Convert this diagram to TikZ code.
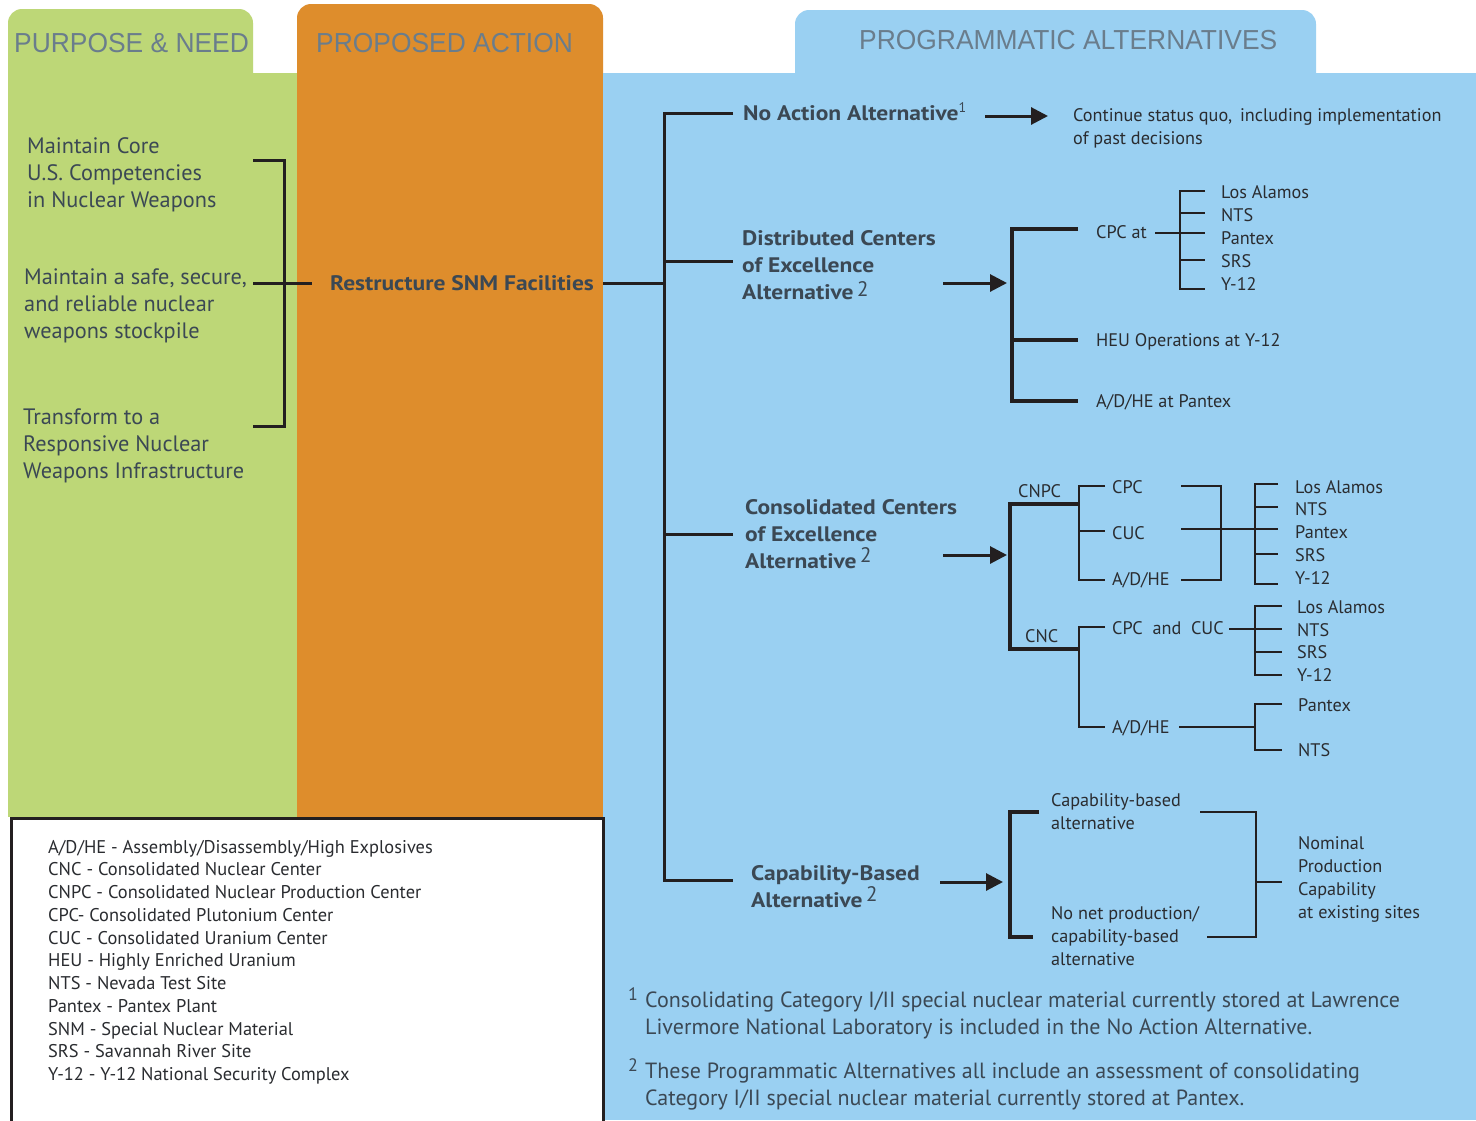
\documentclass[tikz,border=0pt]{standalone}
\usepackage{fontspec}
\setmainfont{PT Sans}
\newfontfamily\hdrfont{Liberation Sans}
\newfontfamily\boldwide[FakeStretch=1.12]{PT Sans Bold}
\usetikzlibrary{arrows.meta}
\definecolor{pgreen}{HTML}{BDD777}
\definecolor{porange}{HTML}{DE8D2C}
\definecolor{pblue}{HTML}{9AD0F2}
\definecolor{txt}{HTML}{3B4854}
\definecolor{dk}{HTML}{2A2C30}
\definecolor{hdr}{HTML}{6A7D8C}
\definecolor{ink}{HTML}{231F20}
\begin{document}
\begin{tikzpicture}[x=1pt,y=-1pt,
  thickln/.style={draw=ink,line width=3pt},
  heavyln/.style={draw=ink,line width=3.6pt},
  thinln/.style={draw=ink,line width=1.6pt},
  arr/.style={draw=ink,line width=3pt,-{Triangle[length=17pt,width=17pt]}},
  hdrtxt/.style={inner sep=0,anchor=base west,text=hdr,font=\hdrfont\fontsize{27.5}{27.5}\selectfont},
  lefttxt/.style={inner sep=0,anchor=base west,align=left,text=txt,font=\fontsize{22.3}{27}\selectfont},
  boldtxt/.style={inner sep=0,anchor=base west,align=left,text=txt,font=\boldwide\fontsize{21}{27}\selectfont},
  smalltxt/.style={inner sep=0,anchor=base west,align=left,text=dk,font=\fontsize{18.2}{23}\selectfont},
  legtxt/.style={inner sep=0,anchor=base west,align=left,text=dk,font=\fontsize{18.4}{22.75}\selectfont},
  fntxt/.style={inner sep=0,anchor=base west,align=left,text=txt,font=\fontsize{22}{27}\selectfont},
  supmark/.style={inner sep=0,anchor=base west,text=txt,font=\fontsize{18}{18}\selectfont},
  supr/.style={},
]
\useasboundingbox (0,0) rectangle (1476,1120);
\fill[white] (0,0) rectangle (1476,1120);
% panels
\fill[pgreen,rounded corners=14pt] (8,9) rectangle (253,110);
\fill[pgreen] (8,73) rectangle (297,817);
\fill[porange,rounded corners=14pt] (297,4) rectangle (603,110);
\fill[porange] (297,60) rectangle (603,817);
\fill[pblue,rounded corners=14pt] (795,10) rectangle (1316,110);
\fill[pblue] (603,73) rectangle (1476,1120);
\draw[line width=3pt,draw=ink,fill=white] (11,818) rectangle (603,1125);

% headers
\node[hdrtxt] (hpn) at (14,52) {\scalebox{0.96}[1]{PURPOSE \& NEED}};
\node[hdrtxt] (hpa) at (316,52) {\scalebox{0.96}[1]{PROPOSED ACTION}};
\node[hdrtxt] (hpg) at (859,49) {\scalebox{0.96}[1]{PROGRAMMATIC ALTERNATIVES}};

% purpose & need (anchors are the baseline of the last line)
\node[lefttxt] (pn1) at (27,207) {Maintain Core\\U.S. Competencies\\in Nuclear Weapons};
\node[lefttxt] (pn2) at (24,338) {Maintain a safe, secure,\\and reliable nuclear\\weapons stockpile};
\node[lefttxt] (pn3) at (23,478) {Transform to a\\Responsive Nuclear\\Weapons Infrastructure};
\coordinate (pnT) at (253,160);
\coordinate (pnB) at (253,426);
\coordinate (pnM) at (253,283);
\coordinate (pnX) at (284,283);
\draw[thickln] (pnT) -| (pnX |- pnB) -- (pnB);
\draw[thickln] (pnM) -- (312,283);

% proposed action
\node[boldtxt] (restr) at (330,290) {Restructure SNM Facilities};
\coordinate (paOut) at (603,283);
\coordinate (trunk) at (664,283);
\draw[thickln] (paOut) -- (trunk);

% trunk
\coordinate (tTop) at (664,113);
\coordinate (tBot) at (664,880);
\coordinate (bNA) at (733,113);
\coordinate (bDC) at (733,261);
\coordinate (bCC) at (733,534);
\coordinate (bCB) at (733,880);
\draw[thickln] (bNA) -| (tBot) -- (bCB);
\draw[thickln] (tTop |- bDC) -- (bDC);
\draw[thickln] (tTop |- bCC) -- (bCC);

% No action
\node[boldtxt] (na) at (743,120) {No Action Alternative\raisebox{8pt}{\normalfont\fontsize{14}{14}\selectfont 1}};
\node[smalltxt] (nares) at (1073,144) {Continue status quo,\, including implementation\\of past decisions};
\draw[arr] (985,116) -- (1048,116);

% Distributed centers
\node[boldtxt] (dc) at (742,299) {Distributed Centers\\of Excellence\\Alternative\,\raisebox{3pt}{\normalfont\fontsize{21}{21}\selectfont 2}};
\draw[arr] (943,283) -- (1007,283);
\draw[heavyln] (1078,229) -| (1012,401) -- (1078,401);
\draw[heavyln] (1012,340) -- (1078,340);
\node[smalltxt] (cpcat) at (1096,238) {CPC at};
\draw[thinln] (1155,233) -- (1205,233);
\draw[thinln] (1205,191) -| (1180,289) -- (1205,289);
\draw[thinln] (1180,213) -- (1205,213);
\draw[thinln] (1180,260) -- (1205,260);
\node[smalltxt] (d1) at (1221,198) {Los Alamos};
\node[smalltxt] (d2) at (1221,221) {NTS};
\node[smalltxt] (d3) at (1221,244) {Pantex};
\node[smalltxt] (d4) at (1221,267) {SRS};
\node[smalltxt] (d5) at (1221,290) {Y-12};
\node[smalltxt] (heu) at (1096,346) {HEU Operations at Y-12};
\node[smalltxt] (adhep) at (1096,407) {A/D/HE at Pantex};

% Consolidated centers
\node[boldtxt] (cc) at (745,568) {Consolidated Centers\\of Excellence\\Alternative\,\raisebox{6pt}{\normalfont\fontsize{21}{21}\selectfont 2}};
\draw[arr] (943,555) -- (1007,555);
\draw[heavyln] (1079,504) -| (1010,649) -- (1079,649);
\node[smalltxt] (cnpc) at (1018,497) {CNPC};
\node[smalltxt] (cnc) at (1025,642) {CNC};
\draw[thinln] (1105,486) -| (1079,580) -- (1105,580);
\draw[thinln] (1079,531) -- (1105,531);
\node[smalltxt] (cpc) at (1112,493) {CPC};
\node[smalltxt] (cuc) at (1112,539) {CUC};
\node[smalltxt] (adhe1) at (1112,585) {A/D/HE};
\draw[thinln] (1181,486) -| (1221,580) -- (1181,580);
\draw[thinln] (1181,529) -- (1278,529);
\draw[thinln] (1278,484) -| (1255,584) -- (1278,584);
\draw[thinln] (1255,507) -- (1278,507);
\draw[thinln] (1255,554) -- (1278,554);
\node[smalltxt] (c1) at (1295,493) {Los Alamos};
\node[smalltxt] (c2) at (1295,515) {NTS};
\node[smalltxt] (c3) at (1295,538) {Pantex};
\node[smalltxt] (c4) at (1295,561) {SRS};
\node[smalltxt] (c5) at (1295,584) {Y-12};
\draw[thinln] (1105,627) -| (1079,727) -- (1105,727);
\node[smalltxt] (cpccuc) at (1112,634) {CPC\ \ and\ \ CUC};
\node[smalltxt] (adhe2) at (1112,733) {A/D/HE};
\draw[thinln] (1229,629) -- (1282,629);
\draw[thinln] (1282,606) -| (1255,675) -- (1282,675);
\draw[thinln] (1255,652) -- (1282,652);
\node[smalltxt] (e1) at (1297,613) {Los Alamos};
\node[smalltxt] (e2) at (1297,636) {NTS};
\node[smalltxt] (e3) at (1297,658) {SRS};
\node[smalltxt] (e4) at (1297,681) {Y-12};
\draw[thinln] (1179,727) -- (1255,727);
\draw[thinln] (1282,704) -| (1255,750) -- (1282,750);
\node[smalltxt] (f1) at (1298,711) {Pantex};
\node[smalltxt] (f2) at (1298,756) {NTS};

% Capability-based
\node[boldtxt] (cb) at (751,907) {Capability-Based\\Alternative\,\raisebox{6pt}{\normalfont\fontsize{21}{21}\selectfont 2}};
\draw[arr] (940,882) -- (1003,882);
\draw[heavyln] (1039,812) -| (1010,937) -- (1033,937);
\node[smalltxt] (cba) at (1051,829) {Capability-based\\alternative};
\node[smalltxt] (nnp) at (1051,965) {No net production/\\capability-based\\alternative};
\draw[thinln] (1200,812) -| (1256,937) -- (1207,937);
\draw[thinln] (1256,882) -- (1282,882);
\node[smalltxt] (nom) at (1298,918) {Nominal\\Production\\Capability\\at existing sites};

% footnotes
\node[supmark] (fm1) at (628,1000) {1};
\node[fntxt] (fn1) at (645,1034) {Consolidating Category I/II special nuclear material currently stored at Lawrence\\Livermore National Laboratory is included in the No Action Alternative.};
\node[supmark] (fm2) at (628,1071) {2};
\node[fntxt] (fn2) at (645,1105) {These Programmatic Alternatives all include an assessment of consolidating\\Category I/II special nuclear material currently stored at Pantex.};

% legend
\node[legtxt] (leg) at (48,1080.5) {A/D/HE - Assembly/Disassembly/High Explosives\\
CNC - Consolidated Nuclear Center\\
CNPC - Consolidated Nuclear Production Center\\
CPC- Consolidated Plutonium Center\\
CUC - Consolidated Uranium Center\\
HEU - Highly Enriched Uranium\\
NTS - Nevada Test Site\\
Pantex - Pantex Plant\\
SNM - Special Nuclear Material\\
SRS - Savannah River Site\\
Y-12 - Y-12 National Security Complex};
\end{tikzpicture}
\end{document}
